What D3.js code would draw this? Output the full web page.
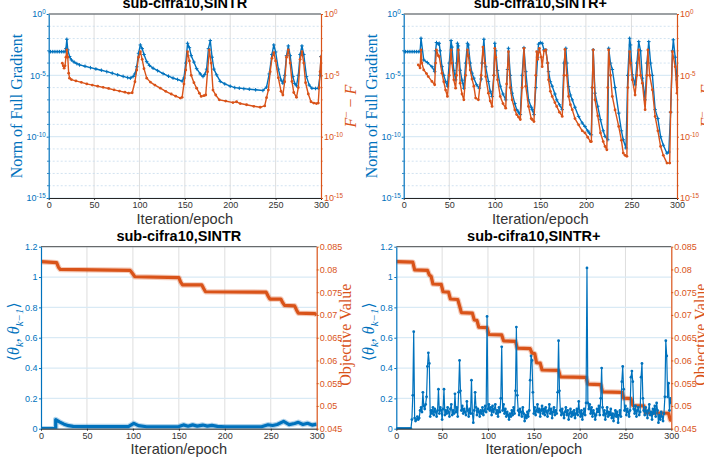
<!DOCTYPE html>
<html>
<head>
<meta charset="utf-8">
<title>sub-cifra10 SINTR</title>
<script src="https://cdn.jsdelivr.net/npm/d3@7"></script>
<style>
  body { margin: 0; background: #fff; }
  #fig text { font-family: "Liberation Sans", Arial, Helvetica, sans-serif; }
  #fig text.serif { font-family: "Liberation Serif", "DejaVu Serif", "Times New Roman", serif; }
</style>
</head>
<body>
<div id="fig"></div>
<script>
// ---- values ----
const iterTicks = [0, 50, 100, 150, 200, 250, 300];
const logTicks = [1e-15, 1e-10, 1e-5, 1e0];
const logTickExp = ['-15', '-10', '-5', '0'];
const thetaTicks = [0, 0.2, 0.4, 0.6, 0.8, 1, 1.2];
const thetaTickLabels = ['0', '0.2', '0.4', '0.6', '0.8', '1', '1.2'];
const objTicks = [0.045, 0.05, 0.055, 0.06, 0.065, 0.07, 0.075, 0.08, 0.085];
const objTickLabels = ['0.045', '0.05', '0.055', '0.06', '0.065', '0.07', '0.075', '0.08', '0.085'];
const titles = ['sub-cifra10,SINTR', 'sub-cifra10,SINTR+', 'sub-cifra10,SINTR', 'sub-cifra10,SINTR+'];

// [iteration, value]
const gradSINTR = [[0,8.5e-4],[2,8.5e-4],[4,8.5e-4],[6,8.5e-4],[8,8.5e-4],[10,8.5e-4],[12,8.5e-4],[14,8.5e-4],[16,8.5e-4],[18,8.4e-4],
  [19,1.5e-3],[20,8.7e-3],[21,1.2e-3],[23,3.4e-4],[25,1.8e-4],[28,1.2e-4],[31,9.0e-5],[34,7.1e-5],[40,5.5e-5],[46,4.2e-5],
  [52,3.3e-5],[58,2.6e-5],[64,2.0e-5],[70,1.5e-5],[76,1.1e-5],[82,8.2e-6],[87,6.5e-6],[90,5.9e-6],[93,8.0e-6],[95,1.3e-5],
  [97,5e-5],[99,6.3e-4],[101,3.0e-3],[103,1.5e-3],[105,5e-4],[108,1.3e-4],[111,6.5e-5],[115,3.8e-5],[120,2.4e-5],[126,1.4e-5],
  [132,8.5e-6],[137,6.0e-6],[142,4.6e-6],[147,3.4e-6],[149,6e-6],[151,1e-4],[153,4.1e-3],[155,1.8e-3],[157,4e-4],[160,1.2e-4],
  [163,3.5e-5],[167,1.3e-5],[170,7.9e-6],[172,1.2e-5],[174,3.2e-5],[176,1.5e-3],[178,6.8e-3],[180,3e-4],[182,3.2e-5],[185,1.1e-5],
  [189,3.2e-6],[194,2.0e-6],[200,1.3e-6],[205,1.0e-6],[210,9.0e-7],[215,8.2e-7],[221,7.4e-7],[228,6.6e-7],[236,5.8e-7],[240,1.1e-6],
  [243,1.3e-5],[246,5e-4],[248,3.0e-3],[250,8e-4],[253,3.2e-5],[256,4e-6],[258,2.3e-6],[260,1e-5],[262,4e-4],[264,2.5e-3],
  [266,4e-4],[269,7.9e-6],[271,2.2e-6],[273,1.4e-6],[275,1e-5],[277,5e-4],[279,2.5e-3],[281,5e-4],[284,7.9e-6],[287,1.6e-6],
  [290,8.9e-7],[294,8.5e-7],[297,8.9e-7],[299,1e-5],[300,3.4e-4]];

const gapSINTR = [[15,9.8e-5],[16,6e-5],[17,3.8e-5],[18,6e-5],[19,3e-4],[20,1.17e-3],[21,3e-4],[22,1.5e-5],[23,5.9e-6],[25,4.5e-6],
  [30,3.5e-6],[36,2.7e-6],[42,2.0e-6],[48,1.6e-6],[54,1.3e-6],[60,1.05e-6],[66,8.5e-7],[72,6.6e-7],[78,5.2e-7],[84,4.2e-7],
  [88,3.5e-7],[92,3.8e-7],[95,3e-6],[97,2.75e-5],[99,3e-4],[101,8.5e-4],[103,2e-4],[105,3.5e-5],[108,5.9e-6],[112,2.8e-6],
  [117,1.6e-6],[123,8.9e-7],[129,5e-7],[135,3e-7],[140,2e-7],[145,1.4e-7],[147,1.6e-7],[149,2e-6],[151,2.75e-5],[153,8.5e-4],
  [155,1.5e-4],[157,1e-5],[160,2.5e-6],[163,8.9e-7],[166,3.5e-7],[168,1.9e-7],[171,2.2e-7],[173,2.5e-7],[175,2e-5],[177,1.17e-3],
  [179,1e-4],[181,6.3e-7],[184,2.5e-7],[188,1e-7],[195,8e-8],[203,6e-8],[207,7e-8],[211,5e-8],[218,4e-8],[226,3e-8],
  [233,2.5e-8],[238,3.2e-8],[240,1.5e-7],[242,6.3e-7],[244,2e-5],[246,2.5e-4],[248,7e-4],[250,1.5e-4],[253,6.3e-6],[256,5e-7],
  [258,2.5e-7],[260,3e-6],[262,3e-4],[264,1.17e-3],[266,1e-4],[268,3.2e-6],[270,4e-7],[273,1.6e-7],[275,1e-6],[277,2e-4],
  [279,8.5e-4],[281,1e-4],[283,2.5e-6],[286,3e-7],[289,7e-8],[292,5.5e-8],[295,5e-8],[297,5.5e-8],[298,1e-6],[299,2e-5],[300,3.2e-4]];

const gradPlus = [[0,8.5e-4],[2,8.5e-4],[4,8.5e-4],[6,8.5e-4],[8,8.5e-4],[10,8.5e-4],[12,8.5e-4],[14,8.5e-4],[16,8.5e-4],[18,8.5e-4],
  [19,1.05e-2],[22,1.8e-4],[26,1.1e-4],[31,5.1e-5],[34,2.0e-5],[35,1e-3],[36,4.7e-3],[38,3.5e-3],[39,4.1e-3],[40,1e-3],
  [42,5.1e-5],[44,1e-5],[46,3.2e-6],[48,1.3e-6],[50,1e-4],[52,6.8e-3],[53,2e-3],[55,2.5e-5],[57,4.3e-6],[58,1e-4],
  [59,4.1e-3],[60,2.5e-3],[62,2.6e-5],[64,4e-6],[66,8.9e-7],[68,1e-4],[70,4.1e-3],[71,3e-3],[73,1e-4],[75,1.5e-5],
  [77,5.9e-6],[80,1.7e-6],[83,8.9e-7],[85,5e-6],[86,1e-4],[88,8.7e-3],[90,5e-5],[93,3.2e-6],[95,5e-7],[97,1.9e-7],
  [99,1e-5],[100,4.1e-3],[101,1e-3],[103,2.5e-5],[106,1.3e-6],[109,3e-7],[112,1e-7],[114,3e-5],[115,1.6e-3],[117,1e-5],
  [119,3.5e-7],[122,5e-8],[124,1.6e-8],[126,1e-8],[128,6.3e-9],[130,1e-5],[132,1.8e-3],[134,2e-5],[137,1e-7],[140,2.5e-8],
  [141,1.6e-8],[143,6.3e-9],[145,1e-6],[147,3e-4],[148,3.5e-3],[150,4.7e-3],[152,4.1e-3],[154,1.2e-3],[156,1.2e-3],[158,1e-4],
  [159,2e-5],[161,3e-6],[163,1.3e-6],[166,3e-7],[168,1e-7],[171,4e-8],[174,1.6e-8],[176,1e-4],[178,1.6e-3],[179,1e-4],
  [181,1.2e-6],[183,2.5e-7],[185,1e-7],[188,2.5e-8],[192,4.5e-9],[196,1.3e-9],[199,6.8e-10],[202,3e-10],[204,1.9e-10],[206,1.4e-10],
  [207,1e-6],[208,1.2e-3],[210,3.5e-7],[213,3e-8],[216,2.4e-9],[219,3e-10],[221,1.05e-10],[224,5.6e-11],[225,1.6e-3],[227,1e-4],
  [229,3e-5],[232,1e-6],[236,8.3e-9],[239,3e-10],[241,5.6e-11],[244,1.2e-11],[246,1e-5],[248,1.05e-2],[249,3e-3],[251,1.1e-5],
  [254,1.7e-6],[256,1e-4],[258,5.6e-3],[260,1e-3],[262,5.9e-6],[265,1e-7],[267,1e-4],[269,5.6e-3],[271,1e-4],[273,1e-5],
  [276,1.6e-8],[279,3e-9],[282,1e-10],[285,2e-11],[289,4.5e-12],[291,5.6e-12],[293,1e-8],[295,1e-3],[296,7.9e-3],[298,3e-4],[300,4.3e-6]];

const gapPlus = [[16,7.1e-5],[18,4e-5],[19,1.17e-3],[20,1e-4],[22,2.75e-5],[25,1.4e-5],[27,7.9e-6],[31,3.2e-6],[34,1.7e-6],[35,1e-4],
  [36,1.17e-3],[38,4e-4],[39,3.4e-4],[42,1.5e-5],[44,3e-6],[46,6.3e-7],[48,1.9e-7],[50,1e-5],[52,1.17e-3],[53,1e-4],
  [55,4.3e-6],[57,8.9e-7],[58,1e-5],[60,1.17e-3],[62,2.3e-6],[64,3e-7],[66,1e-7],[68,1e-5],[70,1.17e-3],[71,4e-4],
  [73,2.75e-5],[75,5e-6],[77,1.3e-6],[79,1.4e-7],[82,1e-7],[85,1e-5],[87,2e-3],[89,1e-4],[90,7.9e-6],[93,3.5e-7],
  [95,8e-8],[97,2.9e-8],[99,1e-5],[100,1.6e-3],[101,3e-4],[103,4.3e-6],[106,1.9e-7],[109,5e-8],[112,2.1e-8],[113,2e-6],
  [115,8.5e-4],[117,1e-6],[119,1e-7],[122,1.5e-8],[124,6.3e-9],[126,4e-9],[128,2.5e-9],[130,1e-6],[132,1.6e-3],[134,1.3e-6],
  [137,2.9e-8],[140,3e-9],[141,2.5e-9],[143,1.7e-9],[145,1e-5],[146,8.5e-4],[147,2e-4],[149,1.6e-3],[151,3e-4],[152,5.1e-5],
  [154,1e-3],[156,1.17e-3],[158,1e-4],[159,4.3e-6],[161,5e-7],[163,1.9e-7],[166,6e-8],[168,2.9e-8],[171,1e-8],[174,4.5e-9],
  [176,1e-5],[177,1.3e-3],[179,1e-5],[181,1.9e-7],[183,4e-8],[185,1.6e-8],[188,3e-9],[192,9.3e-10],[196,3e-10],[199,2e-10],
  [202,9e-11],[205,4e-11],[206,4e-11],[207,1e-6],[208,1.17e-3],[210,1e-7],[213,5e-9],[216,2e-10],[219,4e-11],[221,1.6e-11],
  [223,8.5e-12],[224,1e-6],[225,1.17e-3],[227,1e-5],[229,1.9e-7],[232,1.5e-8],[236,6.8e-10],[239,5e-11],[241,4.6e-12],[243,3e-12],
  [245,2.5e-12],[246,1e-6],[248,8.5e-4],[249,1e-4],[251,4.3e-6],[254,2.5e-7],[256,1e-5],[258,1.17e-3],[260,1e-5],[262,2.3e-6],
  [265,1.6e-8],[267,1e-5],[268,1.17e-3],[270,1e-5],[273,6.6e-7],[276,4.5e-9],[279,3e-10],[282,1.6e-11],[285,3e-12],[289,7e-13],
  [292,7e-13],[293,1e-8],[295,8.5e-4],[298,5.1e-5],[300,3.5e-7]];

const thetaSINTR = [[0,0],[8,0],[16,0],[16,0.06],[20,0.045],[25,0.03],[30,0.02],[35,0.015],[50,0.014],[70,0.014],
  [95,0.014],[101,0.035],[106,0.02],[115,0.013],[130,0.013],[150,0.014],[155,0.025],[160,0.016],[165,0.025],[170,0.017],
  [176,0.024],[181,0.017],[186,0.022],[192,0.015],[200,0.013],[220,0.013],[240,0.013],[247,0.026],[252,0.021],[257,0.028],
  [264,0.048],[270,0.027],[276,0.034],[280,0.042],[285,0.028],[290,0.036],[295,0.024],[300,0.03]];

const objSINTR = [[0,0.0817],[17,0.0815],[19,0.0805],[21,0.0800],[97,0.0798],[100,0.0790],[102,0.0784],[150,0.0782],[152,0.0772],[154,0.0766],
  [175,0.0766],[177,0.0758],[179,0.0751],[245,0.0750],[247,0.0742],[249,0.0735],[261,0.0735],[263,0.0727],[265,0.0721],[276,0.0720],
  [278,0.0711],[280,0.0704],[298,0.0703],[300,0.0700]];

// one value per iteration 0..300
const thetaPlus = [
  0,0,0,0,0,0,0,0,0,0,
  0,0,0,0,0,0,0,0.06,0.22,0.64,
  0.07,0.05,0.06,0.08,0.06,0.07,0.12,0.14,0.11,0.24,
  0.15,0.13,0.16,0.21,0.41,0.50,0.43,0.08,0.12,0.10,
  0.14,0.09,0.13,0.11,0.08,0.12,0.26,0.10,0.14,0.12,
  0.06,0.13,0.26,0.09,0.12,0.10,0.14,0.11,0.08,0.13,
  0.16,0.09,0.12,0.10,0.23,0.11,0.14,0.08,0.24,0.45,
  0.25,0.12,0.15,0.10,0.13,0.11,0.09,0.18,0.12,0.08,
  0.13,0.10,0.32,0.10,0.04,0.12,0.24,0.14,0.09,0.13,
  0.11,0.08,0.12,0.10,0.14,0.09,0.12,0.15,0.11,0.74,
  0.13,0.16,0.12,0.14,0.09,0.15,0.11,0.13,0.16,0.10,
  0.12,0.08,0.14,0.11,0.20,0.54,0.12,0.16,0.10,0.13,
  0.08,0.11,0.09,0.06,0.10,0.08,0.12,0.09,0.14,0.10,
  0.25,0.67,0.22,0.12,0.09,0.13,0.11,0.08,0.14,0.10,
  0.05,0.09,0.07,0.11,0.08,0.12,0.32,0.48,0.45,0.24,
  0.10,0.14,0.09,0.12,0.16,0.11,0.13,0.08,0.12,0.15,
  0.10,0.13,0.09,0.14,0.11,0.08,0.12,0.16,0.10,0.13,
  0.07,0.11,0.14,0.09,0.12,0.10,0.24,0.58,0.25,0.12,
  0.09,0.13,0.10,0.07,0.11,0.14,0.09,0.12,0.06,0.10,
  0.13,0.08,0.11,0.09,0.12,0.07,0.10,0.13,0.09,0.18,
  0.11,0.08,0.12,0.06,0.10,0.13,0.09,0.17,1.06,0.17,
  0.13,0.16,0.10,0.14,0.08,0.12,0.10,0.06,0.09,0.13,
  0.11,0.15,0.09,0.20,0.40,0.14,0.09,0.12,0.06,0.10,
  0.14,0.08,0.11,0.09,0.13,0.07,0.10,0.05,0.09,0.12,
  0.08,0.11,0.04,0.09,0.12,0.08,0.31,0.41,0.26,0.12,
  0.15,0.09,0.13,0.11,0.08,0.12,0.34,0.38,0.31,0.13,
  0.10,0.15,0.08,0.12,0.14,0.09,0.11,0.34,0.43,0.20,
  0.12,0.09,0.14,0.11,0.07,0.12,0.16,0.09,0.11,0.06,
  0.13,0.10,0.15,0.08,0.17,0.12,0.04,0.09,0.06,0.11,
  0.08,0.05,0.10,0.21,0.58,0.48,0.21,0.30,0.12,0.20,
  0.17];

const objPlus = [[0,0.0817],[18,0.0816],[20,0.0799],[34,0.0798],[36,0.0788],[38,0.0785],[40,0.0768],[49,0.0767],[51,0.0751],[57,0.0750],
  [59,0.0735],[67,0.0734],[69,0.0720],[71,0.0705],[83,0.0704],[85,0.0689],[88,0.0688],[90,0.0673],[99,0.0672],[101,0.0657],
  [115,0.0656],[117,0.0643],[130,0.0642],[132,0.0627],[146,0.0626],[148,0.0616],[151,0.0615],[153,0.0595],[157,0.0594],[159,0.0579],
  [177,0.0578],[179,0.0564],[207,0.0563],[209,0.0548],[223,0.0547],[225,0.0531],[246,0.0530],[248,0.0517],[256,0.0516],[258,0.0501],
  [270,0.0500],[272,0.0485],[297,0.0484],[299,0.0469],[300,0.0468]];

// ---- drawing ----
const W = 704, H = 463;
const blue = '#0072BD', orange = '#D95319', dark = '#262626';

const svg = d3.select('#fig').append('svg')
  .attr('width', W).attr('height', H);

const panels = [
  { x0: 48.7, x1: 321, y0: 14, y1: 198, log: true, title: titles[0],
    left: gradSINTR, right: gapSINTR },
  { x0: 403.7, x1: 677, y0: 14, y1: 198, log: true, title: titles[1],
    left: gradPlus, right: gapPlus },
  { x0: 41, x1: 316.7, y0: 246.7, y1: 428.7, log: false, title: titles[2],
    left: thetaSINTR, right: objSINTR, thick: true },
  { x0: 396.3, x1: 671.3, y0: 246.7, y1: 428.7, log: false, title: titles[3],
    left: thetaPlus.map((v, i) => [i, v]), right: objPlus }
];

panels.forEach((p, i) => drawPanel(p, i));

function drawPanel(p, idx) {
  const g = svg.append('g');
  const x = d3.scaleLinear().domain([0, 300]).range([p.x0, p.x1]);
  let yL, yR;
  if (p.log) {
    yL = d3.scaleLog().domain([1e-15, 1]).range([p.y1, p.y0]);
    yR = yL.copy();
  } else {
    yL = d3.scaleLinear().domain([0, 1.2]).range([p.y1, p.y0]);
    yR = d3.scaleLinear().domain([0.045, 0.085]).range([p.y1, p.y0]);
  }

  // grid
  const grid = g.append('g');
  grid.selectAll('line.v').data(iterTicks.slice(1, -1)).join('line')
    .attr('x1', d => x(d)).attr('x2', d => x(d))
    .attr('y1', p.y0).attr('y2', p.y1)
    .attr('stroke', '#dedede').attr('stroke-width', 1);
  if (p.log) {
    const minors = d3.range(-14, 0).filter(e => e % 5 != 0).map(e => Math.pow(10, e));
    grid.selectAll('line.m').data(minors).join('line')
      .attr('x1', p.x0).attr('x2', p.x1)
      .attr('y1', d => yL(d)).attr('y2', d => yL(d))
      .attr('stroke', '#c6dcee').attr('stroke-width', 0.8)
      .attr('stroke-dasharray', '2,2');
  }
  const majors = p.log ? logTicks : thetaTicks;
  grid.selectAll('line.h').data(majors).join('line')
    .attr('x1', p.x0).attr('x2', p.x1)
    .attr('y1', d => yL(d)).attr('y2', d => yL(d))
    .attr('stroke', '#d9eaf5').attr('stroke-width', 1.2);

  // clip
  const clipId = 'clip' + idx;
  svg.append('clipPath').attr('id', clipId).append('rect')
    .attr('x', p.x0).attr('y', p.y0 - 2)
    .attr('width', p.x1 - p.x0).attr('height', p.y1 - p.y0 + 2);
  const plot = g.append('g').attr('clip-path', `url(#${clipId})`);

  if (p.log) {
    drawSeries(plot, p.left, x, yL, blue, 1.4, 'plus');
    drawSeries(plot, p.right, x, yR, orange, 1.4, 'dot');
  } else if (p.thick) {
    drawThick(plot, p.right, x, yR, orange);
    drawThick(plot, p.left, x, yL, blue);
  } else {
    drawThick(plot, p.right, x, yR, orange);
    drawSeries(plot, p.left, x, yL, blue, 1.2, 'dot');
  }

  // axes
  const font = '"Liberation Sans", Arial, Helvetica, sans-serif';
  const gx = g.append('g').attr('transform', `translate(0,${p.y1})`)
    .call(d3.axisBottom(x).tickValues(iterTicks).tickSize(2).tickSizeOuter(0).tickPadding(2));
  gx.attr('font-family', font).attr('font-size', 9);
  gx.select('.domain').attr('stroke', dark);
  gx.selectAll('.tick line').attr('stroke', dark);
  gx.selectAll('.tick text').attr('fill', '#333');

  // top edge of box
  g.append('line').attr('x1', p.x0).attr('x2', p.x1).attr('y1', p.y0).attr('y2', p.y0)
    .attr('stroke', '#4d4d4d').attr('stroke-width', 1);

  let axL, axR;
  if (p.log) {
    axL = d3.axisLeft(yL).tickValues(logTicks).tickSize(2).tickSizeOuter(0).tickPadding(1);
    axR = d3.axisRight(yR).tickValues(logTicks).tickSize(2).tickSizeOuter(0).tickPadding(1);
  } else {
    axL = d3.axisLeft(yL).tickValues(thetaTicks).tickFormat((d, i) => thetaTickLabels[i])
      .tickSize(2).tickSizeOuter(0).tickPadding(1.5);
    axR = d3.axisRight(yR).tickValues(objTicks).tickFormat((d, i) => objTickLabels[i])
      .tickSize(2).tickSizeOuter(0).tickPadding(1);
  }
  const gl = g.append('g').attr('transform', `translate(${p.x0},0)`).call(axL);
  const gr = g.append('g').attr('transform', `translate(${p.x1},0)`).call(axR);
  [[gl, blue], [gr, orange]].forEach(([a, c]) => {
    a.attr('font-family', font).attr('font-size', 9);
    a.select('.domain').attr('stroke', c).attr('stroke-width', 1.2);
    a.selectAll('.tick line').attr('stroke', c);
    a.selectAll('.tick text').attr('fill', c);
  });

  if (p.log) {
    [gl, gr].forEach(a => {
      a.selectAll('.tick text').each(function (d, i) {
        const t = d3.select(this).text('');
        t.append('tspan').text('10');
        t.append('tspan').attr('dy', '-0.5em').attr('font-size', 6.3).text(logTickExp[i]);
      });
    });
    // minor decade ticks
    const minors = d3.range(-14, 0).filter(e => e % 5 != 0).map(e => Math.pow(10, e));
    g.append('g').selectAll('line').data(minors).join('line')
      .attr('x1', p.x0 - 1.5).attr('x2', p.x0)
      .attr('y1', d => yL(d)).attr('y2', d => yL(d)).attr('stroke', blue);
    g.append('g').selectAll('line').data(minors).join('line')
      .attr('x1', p.x1).attr('x2', p.x1 + 1.5)
      .attr('y1', d => yR(d)).attr('y2', d => yR(d)).attr('stroke', orange);
  }

  // title and labels
  const cx = (p.x0 + p.x1) / 2, cy = (p.y0 + p.y1) / 2;
  g.append('text').attr('x', cx).attr('y', p.y0 - 5.6)
    .attr('text-anchor', 'middle').attr('font-size', 14.5).attr('font-weight', 'bold')
    .attr('fill', '#000').text(p.title);
  g.append('text').attr('x', cx).attr('y', p.y1 + 25.5)
    .attr('text-anchor', 'middle').attr('font-size', 14.6).attr('fill', '#333')
    .text('Iteration/epoch');

  if (p.log) {
    g.append('text').attr('class', 'serif')
      .attr('transform', `translate(${p.x0 - 27},${cy}) rotate(-90)`)
      .attr('text-anchor', 'middle').attr('font-size', 16).attr('fill', blue)
      .text('Norm of Full Gradient');
    const t = g.append('text').attr('class', 'serif')
      .attr('transform', `translate(${p.x1 + 35},${cy}) rotate(-90)`)
      .attr('text-anchor', 'middle').attr('font-size', 16).attr('fill', orange);
    t.append('tspan').attr('font-style', 'italic').text('F');
    t.append('tspan').attr('dy', -6).attr('font-size', 11).text('\u2212');
    t.append('tspan').attr('dy', 6).text(' \u2212 ');
    t.append('tspan').attr('font-style', 'italic').text('F');
  } else {
    const t = g.append('text').attr('class', 'serif')
      .attr('transform', `translate(${p.x0 - 22},${cy - 6}) rotate(-90)`)
      .attr('text-anchor', 'middle').attr('font-size', 16).attr('fill', blue);
    t.append('tspan').text('\u27E8');
    t.append('tspan').attr('font-style', 'italic').text('\u03B8');
    t.append('tspan').attr('dy', 4).attr('font-size', 11).attr('font-style', 'italic').text('k');
    t.append('tspan').attr('dy', -4).text(', ');
    t.append('tspan').attr('font-style', 'italic').text('\u03B8');
    t.append('tspan').attr('dy', 4).attr('font-size', 11).attr('font-style', 'italic').text('k\u22121');
    t.append('tspan').attr('dy', -4).text('\u27E9');
    g.append('text').attr('class', 'serif')
      .attr('transform', `translate(${p.x1 + 34.5},${cy - 3}) rotate(-90)`)
      .attr('text-anchor', 'middle').attr('font-size', 16).attr('fill', orange)
      .text('Objective Value');
  }
}

function drawSeries(g, data, x, y, color, width, marker) {
  const line = d3.line().x(d => x(d[0])).y(d => y(d[1]));
  g.append('path').datum(data)
    .attr('d', line).attr('fill', 'none')
    .attr('stroke', color).attr('stroke-width', width)
    .attr('stroke-linejoin', 'round');
  if (marker == 'plus') {
    g.append('g').selectAll('path').data(data).join('path')
      .attr('d', d => `M${x(d[0]) - 1.8},${y(d[1])}h3.6M${x(d[0])},${y(d[1]) - 1.8}v3.6`)
      .attr('stroke', color).attr('stroke-width', 1);
  } else {
    g.append('g').selectAll('circle').data(data).join('circle')
      .attr('cx', d => x(d[0])).attr('cy', d => y(d[1]))
      .attr('r', 1.4).attr('fill', color);
  }
}

function drawThick(g, data, x, y, color) {
  const line = d3.line().x(d => x(d[0])).y(d => y(d[1]));
  g.append('path').datum(data)
    .attr('d', line).attr('fill', 'none')
    .attr('stroke', color).attr('stroke-opacity', 0.3).attr('stroke-width', 5.5)
    .attr('stroke-linejoin', 'round');
  g.append('path').datum(data)
    .attr('d', line).attr('fill', 'none')
    .attr('stroke', color).attr('stroke-width', 3.2)
    .attr('stroke-linejoin', 'round');
}
</script>
</body>
</html>
